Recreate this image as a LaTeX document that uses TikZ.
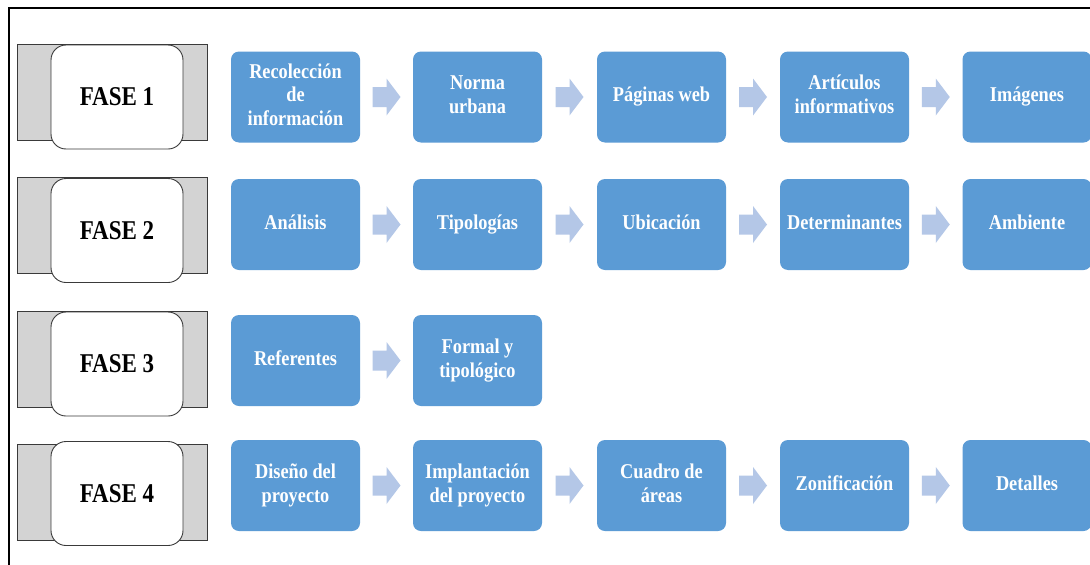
\documentclass[tikz,border=0pt]{standalone}
\usepackage{fontspec}
\usepackage{graphicx}
\setmainfont{Liberation Serif}
\usetikzlibrary{calc}
\definecolor{boxblue}{HTML}{5B9BD5}
\definecolor{arrowblue}{HTML}{B4C7E7}
\definecolor{phasegray}{HTML}{D3D3D3}
\definecolor{edgegray}{HTML}{3A3A3A}
\newcommand{\bt}[1]{\scalebox{1}[1.15]{\begin{tabular}{@{}c@{}}#1\end{tabular}}}
\newcommand{\ft}[1]{\scalebox{1}[1.18]{#1}}
\newcommand{\blockarrow}[2]{%
  \path ($(#1.east)!0.5!(#2.west)$) coordinate (m-#1);
  \fill[arrowblue] ([shift={(-14,-10)}]m-#1) -- ([shift={(0,-10)}]m-#1) -- ([shift={(0,-18.5)}]m-#1)
    -- ([shift={(14,0)}]m-#1) -- ([shift={(0,18.5)}]m-#1) -- ([shift={(0,10)}]m-#1)
    -- ([shift={(-14,10)}]m-#1) -- cycle;}
\begin{document}
\begin{tikzpicture}[x=1pt,y=-1pt,
  graybox/.style={draw=edgegray, line width=0.8pt, fill=phasegray, minimum width=190pt, minimum height=96pt, inner sep=0pt},
  phasebox/.style={draw=edgegray, line width=0.9pt, fill=white, rounded corners=15pt, minimum width=132pt, minimum height=104pt, inner sep=0pt,
     font=\fontsize{23}{26}\selectfont\bfseries},
  bluebox/.style={fill=boxblue, rounded corners=8pt, minimum width=129pt, minimum height=91pt, inner sep=0pt,
     text=white, font=\fontsize{18.3}{20.5}\selectfont\bfseries}
]
\useasboundingbox (0,0) rectangle (1090,565);
\fill[white] (0,0) rectangle (1090,565);
\coordinate (fbl) at (9,566);
\coordinate (ftl) at (9,8);
\coordinate (ftr) at (1091,8);
\draw[line width=2pt, black] (fbl) -- (ftl) -- (ftr);

% Row 1
\node[graybox] (g1) at (112,92) {};
\node[phasebox] (p1) at (117,97) {\ft{FASE 1}};
\node[bluebox] (r1b1) at (295.5,97) {\bt{Recolección\\de\\información}};
\node[bluebox] (r1b2) at (477.5,97) {\bt{Norma\\urbana}};
\node[bluebox] (r1b3) at (661.5,97) {\bt{Páginas web}};
\node[bluebox] (r1b4) at (844.5,97) {\bt{Artículos\\informativos}};
\node[bluebox] (r1b5) at (1027,97) {\bt{Imágenes}};
\blockarrow{r1b1}{r1b2}
\blockarrow{r1b2}{r1b3}
\blockarrow{r1b3}{r1b4}
\blockarrow{r1b4}{r1b5}

% Row 2
\node[graybox] (g2) at (112,225.5) {};
\node[phasebox] (p2) at (117,230.5) {\ft{FASE 2}};
\node[bluebox] (r2b1) at (295.5,224.5) {\bt{Análisis}};
\node[bluebox] (r2b2) at (477.5,224.5) {\bt{Tipologías}};
\node[bluebox] (r2b3) at (661.5,224.5) {\bt{Ubicación}};
\node[bluebox] (r2b4) at (844.5,224.5) {\bt{Determinantes}};
\node[bluebox] (r2b5) at (1027,224.5) {\bt{Ambiente}};
\blockarrow{r2b1}{r2b2}
\blockarrow{r2b2}{r2b3}
\blockarrow{r2b3}{r2b4}
\blockarrow{r2b4}{r2b5}

% Row 3
\node[graybox] (g3) at (112,359.5) {};
\node[phasebox] (p3) at (117,364) {\ft{FASE 3}};
\node[bluebox] (r3b1) at (295.5,360.5) {\bt{Referentes}};
\node[bluebox] (r3b2) at (477.5,360.5) {\bt{Formal y\\tipológico}};
\blockarrow{r3b1}{r3b2}

% Row 4
\node[graybox] (g4) at (112,492.5) {};
\node[phasebox] (p4) at (117,493.5) {\ft{FASE 4}};
\node[bluebox] (r4b1) at (295.5,485.5) {\bt{Diseño del\\proyecto}};
\node[bluebox] (r4b2) at (477.5,485.5) {\bt{Implantación\\del proyecto}};
\node[bluebox] (r4b3) at (661.5,485.5) {\bt{Cuadro de\\áreas}};
\node[bluebox] (r4b4) at (844.5,485.5) {\bt{Zonificación}};
\node[bluebox] (r4b5) at (1027,485.5) {\bt{Detalles}};
\blockarrow{r4b1}{r4b2}
\blockarrow{r4b2}{r4b3}
\blockarrow{r4b3}{r4b4}
\blockarrow{r4b4}{r4b5}
\end{tikzpicture}
\end{document}
